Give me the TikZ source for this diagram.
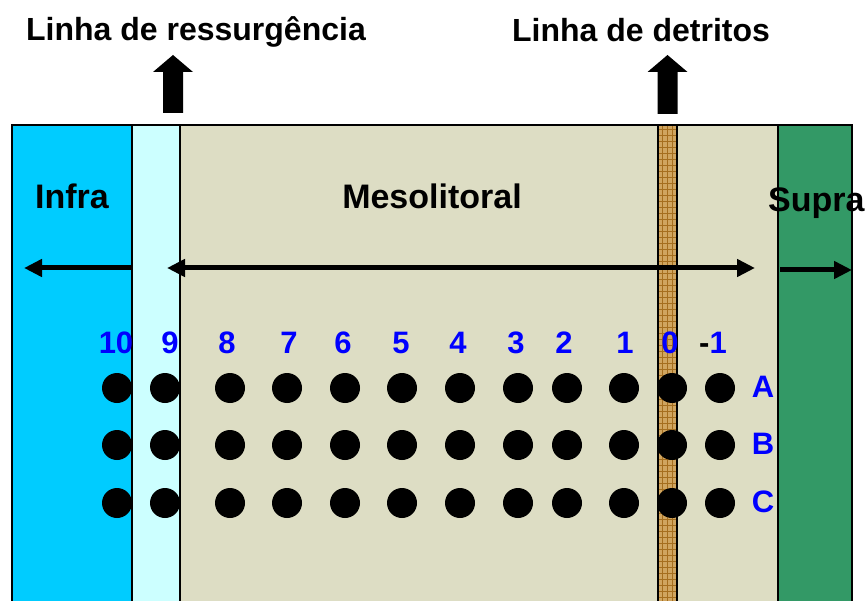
\documentclass[tikz,border=0pt]{standalone}
\usepackage{fontspec}
\setmainfont{Liberation Sans}
\usetikzlibrary{arrows.meta}
\definecolor{infrablue}{RGB}{0,204,255}
\definecolor{lightcyan}{RGB}{204,255,255}
\definecolor{mesobeige}{RGB}{221,221,196}
\definecolor{plainbeige}{RGB}{221,221,195}
\definecolor{supragreen}{RGB}{51,153,102}
\definecolor{detbrown}{RGB}{208,165,95}
\definecolor{detgrid}{RGB}{165,110,30}
\definecolor{numblue}{RGB}{0,0,255}
\tikzset{
  zonelabel/.style={font=\fontsize{34}{40}\selectfont\bfseries, anchor=base, inner sep=0pt},
  titlelabel/.style={font=\fontsize{32}{38}\selectfont\bfseries, anchor=base, inner sep=0pt},
  numlabel/.style={font=\fontsize{31}{36}\selectfont\bfseries, text=numblue, anchor=base, inner sep=0pt},
  dot/.style={circle, fill=black, minimum size=30pt, inner sep=0pt},
  zoneline/.style={line width=2pt, draw=black},
  harrow/.style={line width=5pt, -{Triangle[length=18pt,width=17pt]}},
  hdarrow/.style={line width=5pt, {Triangle[length=18pt,width=17pt]}-{Triangle[length=18pt,width=17pt]}},
  uparrow/.style={fill=black}
}
\begin{document}
\begin{tikzpicture}[x=1pt,y=-1pt]
\useasboundingbox (0,0) rectangle (866,601);
% zones
\fill[infrablue] (12,125) rectangle (132,601);
\fill[lightcyan] (132,125) rectangle (180,601);
\fill[mesobeige] (180,125) rectangle (658,601);
\fill[detbrown] (658,125) rectangle (677,601);
\fill[plainbeige] (677,125) rectangle (778,601);
\fill[supragreen] (778,125) rectangle (852,601);
% detritos texture
\foreach \yy in {129,135,...,601} {
  \draw[detgrid, line width=0.8pt] (658,\yy) -- (677,\yy);
}
\foreach \xx in {662,667,672} {
  \draw[detgrid, line width=0.8pt] (\xx,125) -- (\xx,601);
}
% zone borders
\draw[zoneline] (12,601) -- (12,125) -- (852,125) -- (852,601);
\foreach \xx in {132,180,658,677,778} {
  \draw[zoneline] (\xx,125) -- (\xx,601);
}
% up arrows
\fill[uparrow] (163,113) -- (163,72) -- (153,72) -- (173,55) -- (193,72) -- (183,72) -- (183,113) -- cycle;
\fill[uparrow] (657.5,114) -- (657.5,72) -- (647.5,72) -- (667.5,55) -- (687.5,72) -- (677.5,72) -- (677.5,114) -- cycle;
% titles
\node[titlelabel] (tres) at (196,41) {Linha de ressurgência};
\node[titlelabel] (tdet) at (641,42) {Linha de detritos};
% zone labels
\node[zonelabel] (infra) at (72,209) {Infra};
\node[zonelabel] (meso) at (432,209) {Mesolitoral};
\node[zonelabel, anchor=base west] (supra) at (768,212) {Supra};
% horizontal arrows
\coordinate (lA) at (132,268);
\coordinate (lB) at (24,268);
\coordinate (mA) at (167,268);
\coordinate (mB) at (755,268);
\coordinate (rA) at (780,270);
\coordinate (rB) at (852,270);
\draw[harrow] (lA) -- (lB);
\draw[hdarrow] (mA) -- (mB);
\draw[harrow] (rA) -- (rB);
% numbers
\foreach \lab/\xx [count=\i] in {10/116,9/170,8/227,7/289,6/343,5/401,4/458,3/516,2/564,1/625,0/670} {
  \node[numlabel] (n\i) at (\xx,353) {\lab};
}
\node[numlabel, anchor=base west] (n12) at (699,353) {\textcolor{black}{-}1};
% dots
\foreach \row/\yy in {A/388,B/445,C/503} {
  \foreach \xx [count=\j] in {117,165,230,287,345,402,460,518,567,624,672,720} {
    \node[dot] (d\row\j) at (\xx,\yy) {};
  }
}
% row letters
\node[numlabel] (ra) at (763,397) {A};
\node[numlabel] (rb) at (763,454) {B};
\node[numlabel] (rc) at (763,512) {C};
\end{tikzpicture}
\end{document}
